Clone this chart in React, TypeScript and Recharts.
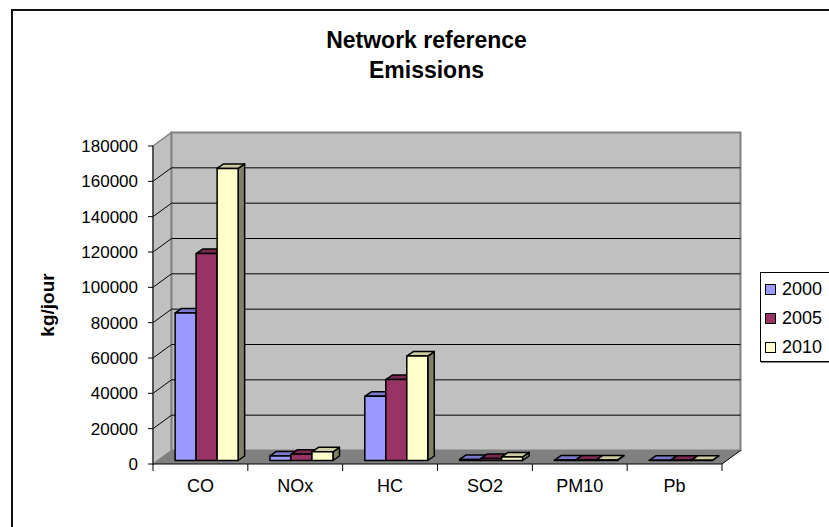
import React from 'react';
import { BarChart, Bar, XAxis, YAxis, ReferenceArea } from 'recharts';

const categories = ['CO', 'NOx', 'HC', 'SO2', 'PM10', 'Pb'];
const years = ['2000', '2005', '2010'];
const values2000 = [83500, 2600, 36300, 600, 250, 80];
const values2005 = [117100, 3500, 45800, 1100, 250, 80];
const values2010 = [165300, 4900, 59100, 2000, 300, 100];
const yTicks = [0, 20000, 40000, 60000, 80000, 100000, 120000, 140000, 160000, 180000];

const colors = ['#9999FF', '#993366', '#FFFFCC'];
const topColors = ['#7A7ACC', '#7A2952', '#CCCCA3'];
const sideColors = ['#4D4D80', '#4D1A33', '#808066'];

const data = categories.map((c, i) => ({
  category: c,
  '2000': values2000[i],
  '2005': values2005[i],
  '2010': values2010[i],
}));

const FONT = '"Liberation Sans", Arial, sans-serif';

// 3d depth of the chart box and of the bars
const DEPTH_X = 18.5;
const DEPTH_Y = 13.5;
const BAR_SHIFT_X = 6;
const BAR_SHIFT_Y = 3.5;
const BAR_DX = 6.5;
const BAR_DY = 4.5;

const Box3D = (props: any) => {
  const { x, y, width: w, height: h } = props;
  const maxV = yTicks[yTicks.length - 1];
  const bx = x + DEPTH_X;
  const by = y - DEPTH_Y;
  const gridY = yTicks.slice(1, -1).map((t) => y + h * (1 - t / maxV));
  const bounds = categories.map((_, i) => x + (w * i) / categories.length).concat(x + w);
  return (
    <g>
      <polygon
        points={`${x},${y} ${bx},${by} ${bx},${by + h} ${x},${y + h}`}
        fill="#C0C0C0"
        stroke="#808080"
        strokeWidth={1.5}
      />
      <rect x={bx} y={by} width={w} height={h} fill="#C0C0C0" stroke="#808080" strokeWidth={2} />
      <polygon
        points={`${x},${y + h} ${bx},${by + h} ${bx + w},${by + h} ${x + w},${y + h}`}
        fill="#808080"
      />
      {gridY.map((gy, i) => (
        <g key={i} stroke="#000" strokeWidth={1}>
          <line x1={x} y1={gy} x2={bx} y2={gy - DEPTH_Y} />
          <line x1={bx} y1={gy - DEPTH_Y} x2={bx + w} y2={gy - DEPTH_Y} />
        </g>
      ))}
      <line x1={x + w} y1={y + h} x2={bx + w} y2={by + h} stroke="#000" strokeWidth={1} />
      {bounds.map((bx0, i) => (
        <line key={i} x1={bx0} y1={y + h} x2={bx0} y2={y + h + 7} stroke="#000" strokeWidth={1} />
      ))}
    </g>
  );
};

const make3DBar = (idx: number) => (props: any) => {
  const { x, y, width: w, height } = props;
  const h = Math.max(height || 0, 0);
  const x0 = x + BAR_SHIFT_X;
  const y0 = y - BAR_SHIFT_Y;
  const side = `${x0 + w},${y0} ${x0 + w + BAR_DX},${y0 - BAR_DY} ${x0 + w + BAR_DX},${y0 + h - BAR_DY} ${x0 + w},${y0 + h}`;
  const top = `${x0},${y0} ${x0 + BAR_DX},${y0 - BAR_DY} ${x0 + w + BAR_DX},${y0 - BAR_DY} ${x0 + w},${y0}`;
  return (
    <g stroke="#000" strokeWidth={1.5} strokeLinejoin="round">
      <polygon points={side} fill={sideColors[idx]} />
      <polygon points={top} fill={topColors[idx]} />
      <rect x={x0} y={y0} width={w} height={h} fill={colors[idx]} />
    </g>
  );
};

const YLabel = (props: any) => {
  const vb = props.viewBox || { x: 0, y: 146, width: 153, height: 318 };
  const cx = vb.x + 47.6;
  const cy = vb.y + vb.height / 2;
  return (
    <text
      x={cx}
      y={cy}
      transform={`rotate(-90 ${cx} ${cy})`}
      textAnchor="middle"
      dominantBaseline="central"
      fontFamily={FONT}
      fontWeight="bold"
      fontSize={19}
      fill="#000"
    >
      kg/jour
    </text>
  );
};

export default function App() {
  return (
    <div
      style={{
        position: 'fixed',
        left: 0,
        top: 0,
        width: 829,
        height: 527,
        overflow: 'hidden',
        background: '#fff',
        fontFamily: FONT,
      }}
    >
      <div
        style={{
          position: 'absolute',
          left: 11,
          top: 9,
          width: 900,
          height: 600,
          border: '2px solid #111',
        }}
      />
      <div
        style={{
          position: 'absolute',
          left: 0,
          top: 25,
          width: 853,
          textAlign: 'center',
          fontWeight: 'bold',
          fontSize: 23,
          lineHeight: '30px',
          color: '#000',
        }}
      >
        Network reference
        <br />
        Emissions
      </div>
      <div style={{ position: 'absolute', left: 0, top: 0 }}>
        <BarChart
          width={829}
          height={527}
          data={data}
          margin={{ top: 146, right: 107, bottom: 0, left: 0 }}
          barCategoryGap="17%"
          barGap={0}
          style={{ fontFamily: FONT }}
        >
          <XAxis
            dataKey="category"
            height={63}
            tickLine={false}
            axisLine={{ stroke: '#000', strokeWidth: 1 }}
            tick={{ fontSize: 18, fill: '#000', fontFamily: FONT }}
            tickMargin={9}
            interval={0}
          />
          <YAxis
            width={153}
            domain={[0, 180000]}
            ticks={yTicks}
            interval={0}
            tickSize={5}
            tickMargin={10}
            axisLine={{ stroke: '#404040', strokeWidth: 1.5 }}
            tickLine={{ stroke: '#000' }}
            tick={{ fontSize: 17, fill: '#000', fontFamily: FONT }}
            label={<YLabel />}
          />
          <ReferenceArea y1={0} y2={180000} shape={(p: any) => <Box3D {...p} />} />
          {years.map((yr, i) => (
            <Bar key={yr} dataKey={yr} isAnimationActive={false} shape={make3DBar(i)} />
          ))}
        </BarChart>
      </div>
      <div
        style={{
          position: 'absolute',
          left: 760,
          top: 272,
          width: 120,
          height: 88,
          border: '1px solid #000',
          boxShadow: '1px 1px 0 #888',
          background: '#fff',
        }}
      >
        {years.map((yr, i) => (
          <div
            key={yr}
            style={{
              position: 'absolute',
              left: 4,
              top: 5 + i * 29.3,
              height: 22,
              display: 'flex',
              alignItems: 'center',
              fontSize: 18,
              color: '#000',
            }}
          >
            <span
              style={{
                display: 'inline-block',
                width: 9,
                height: 9,
                border: '1.5px solid #000',
                background: colors[i],
                marginRight: 6,
              }}
            />
            {yr}
          </div>
        ))}
      </div>
    </div>
  );
}
